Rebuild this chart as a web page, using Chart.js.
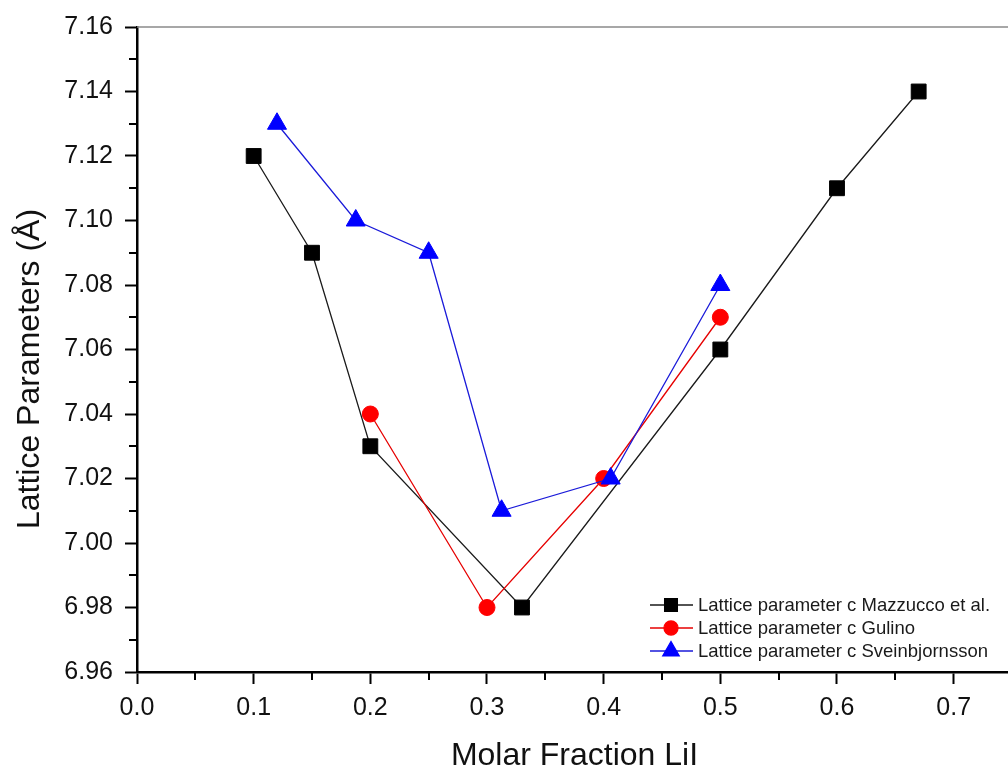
<!DOCTYPE html>
<html>
<head>
<meta charset="utf-8">
<script src="https://cdn.jsdelivr.net/npm/chart.js@4/dist/chart.umd.min.js"></script>
<style>
  html, body { margin: 0; padding: 0; background: #fff; overflow: hidden; }
  #wrap { width: 1024px; height: 772px; }
</style>
</head>
<body>
<div id="wrap"><canvas id="grafico" width="1024" height="772"></canvas></div>
<script>
// parametro de rede c em funcao da fracao molar de LiI
const fracaoMazzucco = [0.10, 0.15, 0.20, 0.33, 0.50, 0.60, 0.67]
const cMazzucco = [7.12, 7.09, 7.03, 6.98, 7.06, 7.11, 7.14]

const fracaoGulino = [0.20, 0.30, 0.40, 0.50]
const cGulino = [7.04, 6.98, 7.02, 7.07]

const fracaoSvein = [0.12, 0.1875, 0.25, 0.3125, 0.406, 0.50]
const cSvein = [7.13, 7.10, 7.09, 7.01, 7.02, 7.08]

const nomes = [
  'Lattice parameter c Mazzucco et al.',
  'Lattice parameter c Gulino',
  'Lattice parameter c Sveinbjornsson'
]

// marcas menores dos eixos (sem rotulo)
const xMenores = [0.05, 0.15, 0.25, 0.35, 0.45, 0.55, 0.65]
const yMenores = [6.97, 6.99, 7.01, 7.03, 7.05, 7.07, 7.09, 7.11, 7.13, 7.15]

const fonte = "'Liberation Sans', Arial, sans-serif"

function pontos(xs, ys) {
  return xs.map((x, i) => ({ x: x, y: ys[i] }))
}

const series = [
  { label: nomes[0], data: pontos(fracaoMazzucco, cMazzucco), cor: '#000000', linha: '#1a1a1a', estilo: 'rect', raio: 10.5, ordem: 2, rLeg: 9 },
  { label: nomes[1], data: pontos(fracaoGulino, cGulino), cor: '#ff0000', linha: '#e60000', estilo: 'circle', raio: 8, ordem: 1, rLeg: 7 },
  { label: nomes[2], data: pontos(fracaoSvein, cSvein), cor: '#0000ff', linha: '#1a1ad9', estilo: 'triangle', raio: 11, ordem: 0, rLeg: 9.5 }
]

// marcas menores, moldura superior, titulo do eixo y e legenda
const extras = {
  id: 'extras',
  afterDraw(chart) {
    const ctx = chart.ctx
    const area = chart.chartArea
    const sx = chart.scales.x
    const sy = chart.scales.y

    ctx.save()
    ctx.strokeStyle = '#000'
    ctx.lineWidth = 2
    xMenores.forEach(v => {
      const px = Math.round(sx.getPixelForValue(v))
      ctx.beginPath()
      ctx.moveTo(px, area.bottom)
      ctx.lineTo(px, area.bottom + 8)
      ctx.stroke()
    })
    yMenores.forEach(v => {
      const py = Math.round(sy.getPixelForValue(v))
      ctx.beginPath()
      ctx.moveTo(area.left, py)
      ctx.lineTo(area.left - 8, py)
      ctx.stroke()
    })

    ctx.strokeStyle = '#8a8a8a'
    ctx.lineWidth = 1.5
    ctx.beginPath()
    ctx.moveTo(area.left, area.top)
    ctx.lineTo(area.right, area.top)
    ctx.stroke()

    ctx.translate(30, 369)
    ctx.rotate(-Math.PI / 2)
    ctx.fillStyle = '#111'
    ctx.font = '32px ' + fonte
    ctx.textAlign = 'center'
    ctx.textBaseline = 'middle'
    ctx.fillText('Lattice Parameters (Å)', 0, 0)
    ctx.restore()

    ctx.save()
    ctx.font = '18.5px ' + fonte
    ctx.textBaseline = 'middle'
    series.forEach((s, i) => {
      const y = 605 + i * 23
      ctx.strokeStyle = s.linha
      ctx.lineWidth = 1.3
      ctx.beginPath()
      ctx.moveTo(650, y)
      ctx.lineTo(693, y)
      ctx.stroke()
      ctx.fillStyle = s.cor
      ctx.strokeStyle = s.cor
      Chart.helpers.drawPoint(ctx, { pointStyle: s.estilo, radius: s.rLeg, borderWidth: 1, rotation: 0 }, 671, y)
      ctx.fillStyle = '#1a1a1a'
      ctx.fillText(s.label, 698, y + 1)
    })
    ctx.restore()
  }
}

const ctx = document.getElementById('grafico').getContext('2d')

new Chart(ctx, {
  type: 'line',
  data: {
    datasets: series.map(s => ({
      label: s.label,
      data: s.data,
      borderColor: s.linha,
      borderWidth: 1.3,
      backgroundColor: s.cor,
      pointStyle: s.estilo,
      pointRadius: s.raio,
      pointBorderColor: s.cor,
      pointBackgroundColor: s.cor,
      pointBorderWidth: 1,
      tension: 0,
      fill: false,
      order: s.ordem
    }))
  },
  options: {
    responsive: false,
    animation: false,
    layout: { padding: { top: 25, right: 4, left: 0, bottom: 0 } },
    plugins: {
      legend: { display: false },
      tooltip: { enabled: false }
    },
    scales: {
      x: {
        type: 'linear',
        min: 0,
        max: 0.75,
        afterFit(scale) { scale.height = 100 },
        grid: { drawOnChartArea: false, tickLength: 12, tickWidth: 2, tickColor: '#000' },
        border: { color: '#000', width: 2.5 },
        ticks: {
          stepSize: 0.1,
          includeBounds: false,
          maxRotation: 0,
          padding: 9,
          color: '#111',
          font: { family: fonte, size: 25 },
          callback: v => v.toFixed(1)
        },
        title: {
          display: true,
          text: 'Molar Fraction LiI',
          color: '#111',
          font: { family: fonte, size: 32, lineHeight: 1 },
          padding: { top: 0, bottom: 0 }
        }
      },
      y: {
        min: 6.96,
        max: 7.16,
        afterFit(scale) { scale.width = 137 },
        grid: { drawOnChartArea: false, tickLength: 12, tickWidth: 2, tickColor: '#000' },
        border: { color: '#000', width: 2.5 },
        ticks: {
          stepSize: 0.02,
          padding: 12,
          color: '#111',
          font: { family: fonte, size: 25 },
          callback: v => v.toFixed(2)
        }
      }
    }
  },
  plugins: [extras]
})
</script>
</body>
</html>
